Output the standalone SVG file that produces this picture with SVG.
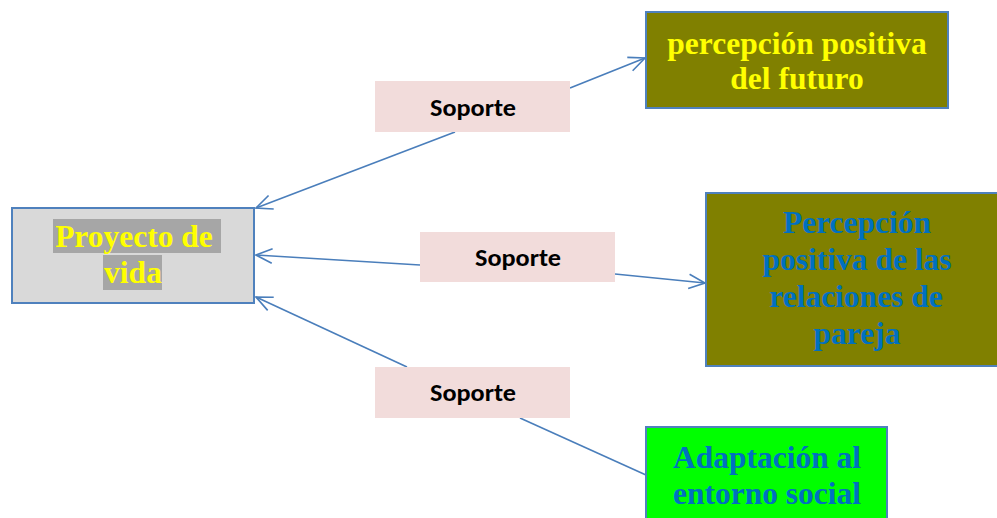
<svg xmlns="http://www.w3.org/2000/svg" width="997" height="518" viewBox="0 0 997 518">
<defs>
<style>
.node{stroke:#4f81bd;stroke-width:2}
.lbl{fill:#f2dcdb}
.lt{font-family:Carlito,"Liberation Sans",sans-serif;font-weight:bold;font-size:24px;fill:#000;text-anchor:middle}
.st{font-family:"Liberation Serif",serif;font-weight:bold;font-size:31.5px;text-anchor:middle}
.conn{stroke:#4a7ebb;stroke-width:1.6;fill:none}
</style>
<marker id="arr" viewBox="0 0 20 20" refX="19" refY="10" markerWidth="18" markerHeight="18" markerUnits="userSpaceOnUse" orient="auto">
<path d="M1,2 L19,10 L1,18" fill="none" stroke="#4a7ebb" stroke-width="1.8"/>
</marker>
</defs>
<rect width="997" height="518" fill="#fff"/>
<g id="connectors">
<line class="conn" x1="570" y1="88" x2="645" y2="58" marker-end="url(#arr)"/>
<line class="conn" x1="455" y1="132" x2="256" y2="208" marker-end="url(#arr)"/>
<line class="conn" x1="420" y1="265" x2="256" y2="255" marker-end="url(#arr)"/>
<line class="conn" x1="615" y1="274" x2="705" y2="283" marker-end="url(#arr)"/>
<line class="conn" x1="407" y1="367" x2="256" y2="297" marker-end="url(#arr)"/>
<line class="conn" x1="520" y1="418" x2="646" y2="475"/>
</g>
<g id="proyecto">
<rect class="node" x="12" y="208" width="242" height="95" fill="#d9d9d9"/>
<rect x="53" y="219" width="168" height="34" fill="#a6a6a6"/>
<rect x="103" y="255" width="59" height="35" fill="#a6a6a6"/>
<text class="st" fill="#ffff00" x="134" y="247">Proyecto de</text>
<text class="st" fill="#ffff00" x="133" y="283">vida</text>
</g>
<g id="soporte1">
<rect class="lbl" x="375" y="81" width="195" height="51"/>
<text class="lt" x="473" y="116" textLength="86" lengthAdjust="spacingAndGlyphs">Soporte</text>
</g>
<g id="soporte2">
<rect class="lbl" x="420" y="232" width="195" height="50"/>
<text class="lt" x="518" y="266" textLength="86" lengthAdjust="spacingAndGlyphs">Soporte</text>
</g>
<g id="soporte3">
<rect class="lbl" x="375" y="367" width="195" height="51"/>
<text class="lt" x="473" y="401" textLength="86" lengthAdjust="spacingAndGlyphs">Soporte</text>
</g>
<g id="futuro">
<rect class="node" x="646" y="12" width="302" height="96" fill="#808000"/>
<text class="st" fill="#ffff00" x="797" y="54">percepción positiva</text>
<text class="st" fill="#ffff00" x="797" y="89">del futuro</text>
</g>
<g id="pareja">
<rect class="node" x="706" y="193" width="293" height="173" fill="#808000"/>
<text class="st" fill="#0070c0" x="857" y="233">Percepción</text>
<text class="st" fill="#0070c0" x="857" y="270">positiva de las</text>
<text class="st" fill="#0070c0" x="856" y="307">relaciones de</text>
<text class="st" fill="#0070c0" x="857" y="344">pareja</text>
</g>
<g id="adaptacion">
<rect class="node" x="646" y="427" width="241" height="95" fill="#00ff00"/>
<text class="st" fill="#0070c0" x="767" y="468">Adaptación al</text>
<text class="st" fill="#0070c0" x="767" y="504">entorno social</text>
</g>
</svg>
